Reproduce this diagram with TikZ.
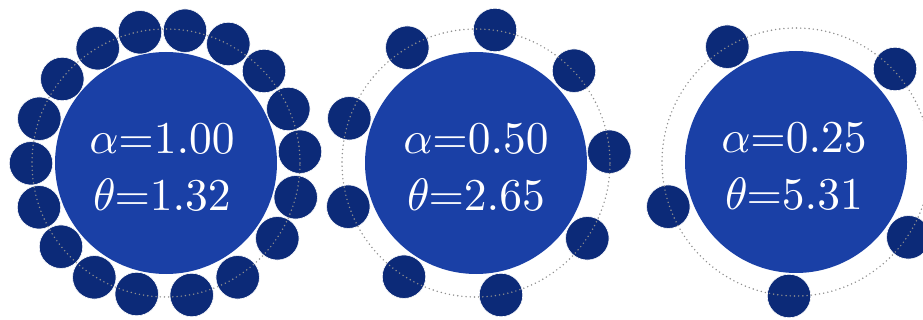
\documentclass[tikz,border=0pt]{standalone}
\definecolor{bigblue}{HTML}{1A40A6}
\definecolor{satnavy}{HTML}{0C2A78}
\definecolor{dotgray}{HTML}{8E8E8E}
\font\lblrm=cmr10 at 45.5pt
\font\lblmi=cmmi10 at 45.5pt
\newcommand{\alphaeq}[1]{{\lblmi\char"0B}{\lblrm =#1}}
\newcommand{\thetaeq}[1]{{\lblmi\char"12}{\lblrm =#1}}
\tikzset{
 sat/.style={circle, fill=satnavy, draw=white, line width=0.6pt, minimum size=43.5pt, inner sep=0pt},
 core/.style={circle, fill=bigblue, minimum size=222pt, inner sep=0pt},
 orbit/.style={circle, draw=dotgray, line width=1.6pt, dash pattern=on 0pt off 4.2pt, line cap=round, minimum size=268pt, inner sep=0pt},
 lbl/.style={text=white, anchor=base, inner sep=0pt}
}
\begin{document}
\begin{tikzpicture}[x=1pt,y=-1pt]
\useasboundingbox (0,0) rectangle (923,320);
\clip (0,0) rectangle (923,320);
% ---------- figure 1 ----------
\node[core] (c1) at (166,163) {};
\foreach \px/\py [count=\i] in {185.0/30.7, 140.0/32.3, 97.7/48.3, 62.3/79, 39.3/118.7, 31/163.3, 39/207.3, 61/246.7, 94.3/277.3, 136.7/294, 191.7/295, 237.7/277.3, 277.3/238.3, 295.7/197.3, 300/151.7, 288.3/109, 264/71, 228.3/44}
  \node[sat] (a\i) at (\px,\py) {};
\node[orbit] (o1) at (166,163) {};
\node[lbl] (t1a) at (162,154) {\alphaeq{1.00}};
\node[lbl] (t1b) at (162,211) {\thetaeq{1.32}};
% ---------- figure 2 ----------
\node[core] (c2) at (476,163) {};
\foreach \px/\py [count=\i] in {407.3/47.7, 495/30, 574/70.7, 609.3/151.7, 587.3/238.3, 501/295, 404/276.7, 348.3/206.7, 349.3/118.3}
  \node[sat] (b\i) at (\px,\py) {};
\node[orbit] (o2) at (476,163) {};
\node[lbl] (t2a) at (476,154) {\alphaeq{0.50}};
\node[lbl] (t2b) at (476,211) {\thetaeq{2.65}};
% ---------- figure 3 ----------
\node[core] (c3) at (796,162) {};
\foreach \px/\py [count=\i] in {727.3/46.7, 895/69, 908.3/237.3, 789/296, 668.3/206.7}
  \node[sat] (d\i) at (\px,\py) {};
\node[orbit] (o3) at (796,162) {};
\node[lbl] (t3a) at (794,153) {\alphaeq{0.25}};
\node[lbl] (t3b) at (794,210) {\thetaeq{5.31}};
\end{tikzpicture}
\end{document}
